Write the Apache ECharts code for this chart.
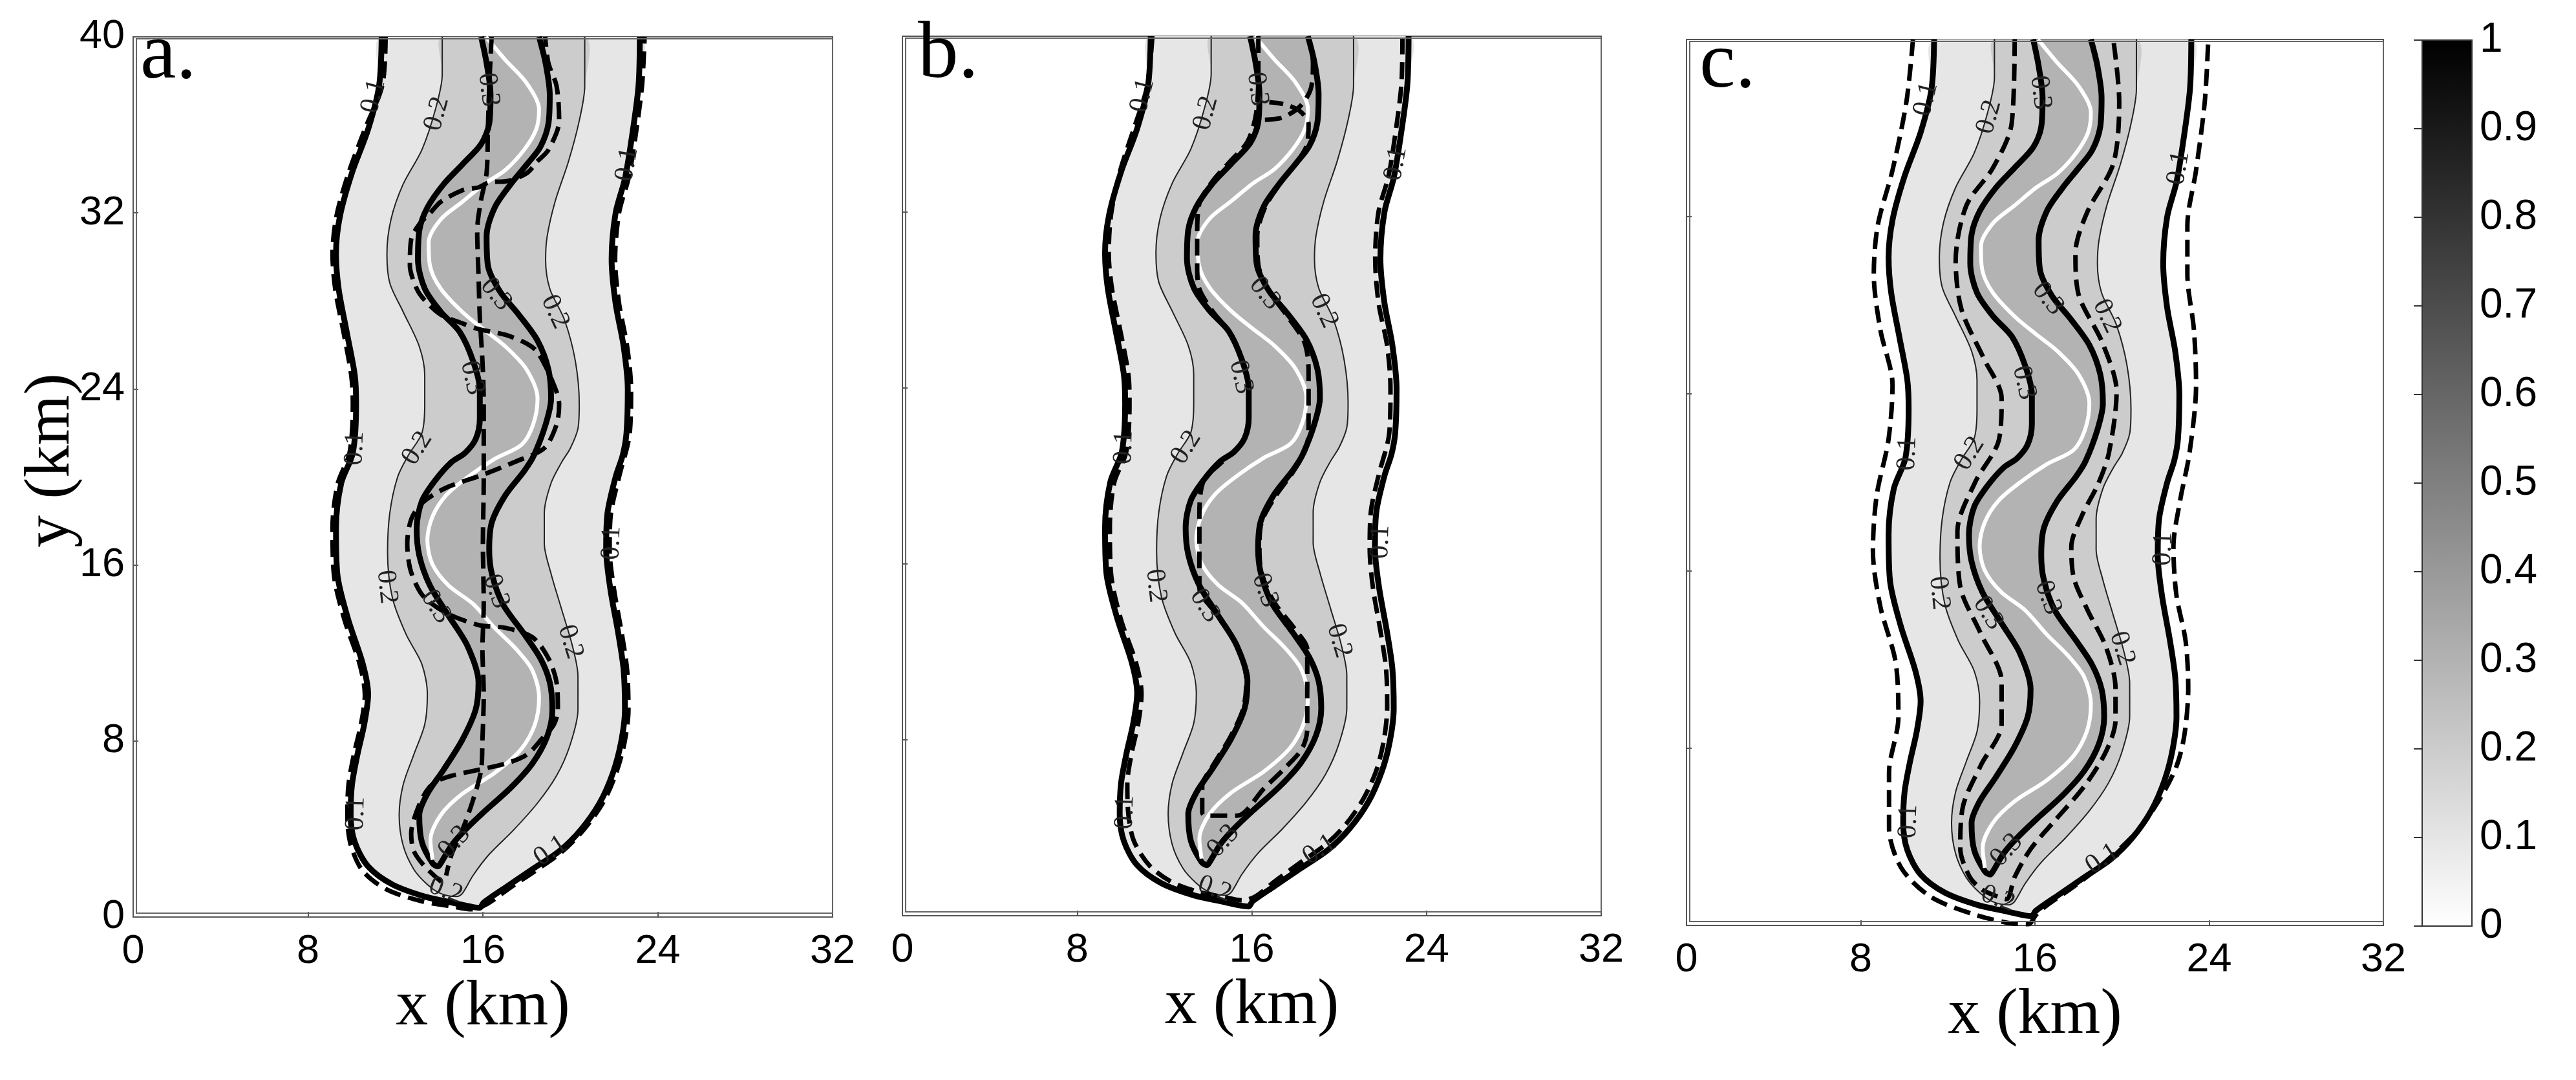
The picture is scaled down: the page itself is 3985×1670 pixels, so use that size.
<!DOCTYPE html>
<html>
<head>
<meta charset="utf-8">
<script src="https://cdn.jsdelivr.net/npm/echarts@6/dist/echarts.min.js"></script>
<style>
html, body { margin: 0; padding: 0; background: #fff; }
#chart { width: 3985px; height: 1670px; }
</style>
</head>
<body>
<div id="chart"></div>
<script>
// axes
const xTicks = [0, 8, 16, 24, 32]
const yTicks = [0, 8, 16, 24, 32, 40]
const cbarTicks = [0, 0.1, 0.2, 0.3, 0.4, 0.5, 0.6, 0.7, 0.8, 0.9, 1]
const panelNames = ['a.', 'b.', 'c.']

// shaded field (same in all three panels), contour lines
// each list: left flank top -> bottom, round the tip, right flank bottom -> top
const obs01 = [
  [11.37, 40], [11.25, 37.77], [10.75, 35.8], [10.01, 33.82], [9.46, 31.85], [9.28, 30.14], [9.4, 28.56],
  [9.77, 26.59], [10.14, 24.62], [10.2, 23.3], [10.05, 21.1], [9.52, 19.72], [9.28, 17.66], [9.34, 15.6],
  [9.83, 13.55], [10.51, 11.49], [10.75, 10.12], [10.57, 8.75], [10.26, 7.38], [10.01, 6.0], [9.95, 4.63],
  [10.14, 3.4], [10.75, 2.3], [11.86, 1.48], [13.34, 0.93], [14.57, 0.66], [15.55, 0.45], [15.85, 0.42],
  [16.04, 0.66], [17.03, 1.34], [18.26, 2.17], [19.49, 2.99], [20.47, 3.95], [21.34, 5.18], [21.95, 6.55],
  [22.32, 7.93], [22.5, 9.43], [22.44, 11.22], [22.2, 12.86], [21.83, 14.92], [21.64, 16.7], [21.7, 18.35],
  [22.07, 19.99], [22.4, 21.0], [22.57, 21.99], [22.63, 23.96], [22.44, 25.93], [22.07, 27.9], [21.89, 29.88],
  [22.07, 31.98], [22.5, 33.56], [22.81, 35.4], [23.12, 37.77], [23.18, 40]
]
const obs02 = [
  [14.14, 40], [14.14, 38.29], [13.83, 36.71], [13.21, 34.87], [12.35, 33.3], [11.8, 31.72], [11.61, 30.14],
  [11.74, 28.82], [12.35, 27.51], [13.09, 25.93], [13.34, 24.62], [13.34, 23.3], [13.21, 21.99], [12.6, 21.0],
  [12.1, 20.0], [11.74, 18.35], [11.64, 16.57], [11.86, 14.51], [12.48, 12.86], [13.21, 11.49], [13.46, 10.12],
  [13.34, 8.75], [12.84, 7.38], [12.35, 6.0], [12.17, 4.63], [12.35, 3.26], [12.84, 2.17], [13.46, 1.48],
  [14.07, 1.07], [14.81, 0.93], [15.06, 1.07], [15.55, 1.89], [16.29, 2.85], [17.4, 3.95], [18.5, 5.18],
  [19.37, 6.42], [19.98, 7.79], [20.35, 9.43], [20.35, 10.94], [20.1, 12.31], [19.61, 13.96], [19.12, 15.6],
  [18.81, 16.98], [18.81, 18.35], [19.12, 19.72], [19.61, 20.68], [20.0, 21.3], [20.35, 22.2], [20.41, 23.3],
  [20.23, 25.27], [19.74, 27.12], [19.06, 28.56], [18.87, 29.88], [18.94, 30.93], [19.3, 32.5], [19.92, 34.35],
  [20.41, 36.19], [20.66, 37.77], [20.66, 40]
]
const obs03 = [
  [15.92, 40], [16.17, 38.8], [16.35, 37.37], [16.29, 36.06], [15.92, 35.13], [15.06, 34.2], [14.2, 33.3],
  [13.46, 32.24], [13.09, 31.19], [13.03, 29.88], [13.34, 28.56], [14.07, 27.51], [14.94, 26.59], [15.55, 25.27],
  [15.86, 23.96], [15.86, 22.64], [15.67, 21.72], [15.18, 21.09], [14.57, 20.68], [13.83, 19.86], [13.21, 18.9],
  [12.97, 17.66], [13.09, 16.43], [13.58, 15.06], [14.44, 13.68], [15.3, 12.31], [15.8, 10.67], [15.67, 9.43],
  [15.06, 8.06], [14.2, 6.69], [13.46, 5.6], [13.09, 4.63], [13.21, 3.4], [13.7, 2.44], [13.95, 2.3],
  [14.07, 2.44], [14.57, 3.26], [15.18, 3.95], [16.04, 4.77], [17.27, 5.87], [18.26, 6.97], [18.94, 8.2],
  [19.18, 9.43], [19.06, 10.67], [18.63, 11.76], [17.89, 12.86], [16.91, 14.23], [16.41, 15.6], [16.29, 16.7],
  [16.41, 17.94], [17.03, 19.17], [17.89, 20.27], [18.32, 20.95], [18.87, 22.38], [19.12, 23.56], [19.0, 24.88],
  [18.5, 26.2], [17.64, 27.38], [16.78, 28.43], [16.23, 29.61], [16.17, 30.93], [16.54, 32.24], [17.27, 33.3],
  [18.01, 34.2], [18.63, 35.0], [19.0, 36.06], [19.06, 37.37], [18.87, 38.8], [18.57, 40]
]
const plumeAxis = [
  [16.14, 40], [17.03, 38.95], [18.0, 37.9], [18.57, 36.7], [18.44, 35.8], [17.89, 34.87], [17.03, 33.95],
  [16.04, 33.3], [15.06, 32.5], [14.07, 31.7], [13.52, 30.66], [13.58, 29.6], [14.07, 28.56], [15.06, 27.5],
  [16.04, 26.7], [17.03, 25.93], [18.0, 24.88], [18.5, 23.56], [18.3, 22.38], [17.77, 21.46], [16.54, 20.82],
  [15.3, 19.99], [14.32, 19.17], [13.7, 18.21], [13.46, 17.11], [13.7, 16.02], [14.44, 15.06], [15.55, 14.23],
  [16.54, 13.14], [17.52, 12.18], [18.26, 11.22], [18.57, 9.98], [18.38, 8.75], [17.77, 7.65], [16.54, 6.55],
  [15.06, 5.6], [14.07, 4.63], [13.6, 3.5], [13.7, 2.6]
]
// inline contour labels [x, y, text, angle in degrees]
const contourLabels = [
  [11.0, 37.3, '0.1', 76], [13.9, 36.5, '0.2', 75], [16.25, 37.6, '0.3', -83], [22.6, 34.2, '0.1', 80],
  [16.6, 28.3, '0.3', -51], [19.3, 27.5, '0.2', -65], [15.5, 24.5, '0.3', -77], [13.0, 21.3, '0.2', 58],
  [10.15, 21.3, '0.1', 88], [21.9, 17.0, '0.1', 88], [11.6, 15.0, '0.2', -84], [13.85, 14.1, '0.3', -58],
  [16.6, 14.8, '0.3', -70], [20.0, 12.5, '0.2', -73], [10.2, 4.7, '0.1', 88], [14.7, 3.4, '0.3', 48],
  [19.1, 3.0, '0.1', 34], [14.3, 1.2, '0.2', -20]
]

// dashed contours, panel a
const aDash1 = [
  [11.55, 40], [11.4, 37.8], [10.6, 35.8], [9.85, 33.8], [9.3, 31.85], [9.12, 30.1], [9.25, 28.5], [9.62, 26.6],
  [9.98, 24.6], [10.05, 23.3], [9.9, 21.1], [9.36, 19.7], [9.12, 17.7], [9.18, 15.6], [9.67, 13.5], [10.36, 11.5],
  [10.6, 10.1], [10.42, 8.75], [10.1, 7.4], [9.85, 6.0], [9.8, 4.6], [9.95, 3.3], [10.5, 2.1], [11.6, 1.25],
  [13.2, 0.72], [14.5, 0.5], [15.5, 0.35], [16.2, 0.6], [17.2, 1.3], [18.4, 2.1], [19.6, 2.95], [20.6, 3.95],
  [21.5, 5.2], [22.1, 6.55], [22.48, 7.93], [22.66, 9.43], [22.6, 11.22], [22.36, 12.86], [22.0, 14.9],
  [21.8, 16.7], [21.86, 18.35], [22.23, 20.0], [22.72, 22.0], [22.78, 23.96], [22.6, 25.93], [22.23, 27.9],
  [22.05, 29.9], [22.23, 32.0], [22.66, 33.56], [22.97, 35.4], [23.28, 37.77], [23.4, 40]
]
const aDash3 = [
  [14.1, 1.6], [13.34, 2.3], [12.84, 3.0], [12.72, 3.8], [12.97, 4.8], [13.4, 5.7], [13.83, 6.14], [14.57, 6.42],
  [15.8, 6.69], [17.03, 6.97], [18.01, 7.38], [18.7, 8.1], [19.25, 8.75], [19.43, 9.43], [19.37, 10.67],
  [19.0, 11.76], [18.26, 12.72], [17.03, 13.14], [15.8, 13.27], [14.32, 13.82], [13.34, 14.51], [12.97, 15.06],
  [12.66, 15.88], [12.54, 16.98], [12.72, 18.07], [13.2, 18.8], [14.3, 19.5], [16.0, 20.1], [17.5, 20.7],
  [18.8, 21.3], [19.37, 22.38], [19.49, 23.3], [19.18, 24.35], [18.5, 25.67], [18.01, 26.06], [17.03, 26.46],
  [15.8, 26.72], [15.06, 26.98], [14.07, 27.38], [13.34, 28.03], [12.97, 28.56], [12.66, 29.61], [12.72, 30.8],
  [13.1, 31.5], [13.58, 31.98], [14.07, 32.5], [15.06, 33.03], [15.8, 33.16], [16.3, 33.4], [17.03, 33.43],
  [18.0, 33.8], [18.5, 34.35], [19.0, 34.87], [19.49, 36.19], [19.37, 37.77], [19.0, 38.8], [18.85, 40]
]
const aDash3Mid = [
  [16.4, 40], [16.29, 37.77], [16.23, 35.8], [16.17, 33.82], [15.9, 32.5], [15.74, 31.19], [15.8, 29.2],
  [15.86, 27.25], [15.98, 25.27], [16.04, 23.3], [16.04, 21.09], [16.04, 19.86], [16.0, 17.0], [16.04, 14.23],
  [15.98, 12.18], [16.04, 10.12], [15.98, 8.06], [15.92, 6.69], [15.55, 5.32], [15.06, 3.95], [14.57, 2.85],
  [14.32, 1.89]
]

// dashed contours, panel b
const bDash1 = [
  [11.45, 40], [11.2, 37.7], [10.6, 35.8], [9.95, 33.8], [9.55, 31.85], [9.45, 30.1], [9.6, 28.5], [9.98, 26.6],
  [10.35, 24.6], [10.4, 23.3], [10.25, 21.1], [9.7, 19.7], [9.5, 17.7], [9.55, 15.6], [10.0, 13.5], [10.7, 11.5],
  [10.95, 10.1], [10.8, 8.75], [10.5, 7.4], [10.3, 6.0], [10.35, 4.6], [10.6, 3.4], [11.3, 2.3], [12.3, 1.55],
  [13.5, 1.1], [14.7, 0.85], [15.6, 0.7], [16.2, 0.9], [17.1, 1.6], [18.2, 2.4], [19.4, 3.25], [20.3, 4.15],
  [21.1, 5.3], [21.7, 6.6], [22.05, 8.0], [22.2, 9.5], [22.15, 11.2], [21.9, 12.9], [21.55, 14.9], [21.4, 16.7],
  [21.45, 18.35], [21.8, 20.0], [22.3, 22.0], [22.35, 24.0], [22.2, 25.9], [21.8, 27.9], [21.65, 29.9],
  [21.8, 32.0], [22.25, 33.6], [22.55, 35.4], [22.85, 37.8], [22.9, 40]
]
const bDash3 = [
  [16.3, 40], [16.3, 38.5], [16.2, 36.5], [15.8, 35.2], [15.0, 34.3], [14.2, 33.4], [13.6, 32.4], [13.5, 31.0],
  [13.5, 29.5], [13.6, 28.5], [14.2, 27.5], [15.0, 26.5], [15.6, 25.2], [15.85, 24.0], [15.85, 22.6],
  [15.6, 21.6], [14.6, 20.6], [13.8, 19.8], [13.6, 18.3], [13.6, 16.5], [13.6, 14.9], [14.4, 13.7], [15.3, 12.3],
  [15.75, 10.7], [15.6, 9.4], [15.0, 8.1], [14.2, 6.8], [13.73, 5.9], [13.73, 4.7], [13.85, 4.55], [14.6, 4.55],
  [15.33, 4.55], [16.57, 5.8], [17.55, 6.75], [18.3, 7.6], [18.54, 8.5], [18.54, 10.0], [18.54, 12.1],
  [18.0, 13.0], [17.0, 14.3], [16.45, 15.6], [16.35, 16.7], [16.45, 17.9], [17.1, 19.1], [17.9, 20.2],
  [18.5, 21.3], [18.6, 22.4], [18.6, 23.6], [18.6, 24.8], [18.4, 26.1], [17.6, 27.3], [16.8, 28.4], [16.3, 29.6],
  [16.25, 30.9], [16.6, 32.2], [17.3, 33.3], [18.0, 34.2], [18.5, 35.0], [18.6, 36.0], [18.2, 36.6],
  [17.5, 36.9], [16.8, 37.0]
]
const bDash3Top = [
  [16.6, 36.2], [17.4, 36.3], [18.2, 36.8], [18.7, 37.6], [18.8, 38.8], [18.6, 40]
]

// dashed contours, panel c
const cDash1 = [
  [10.4, 40], [10.1, 37.2], [9.46, 34.1], [8.78, 31.6], [8.6, 29.4], [8.9, 26.9], [9.46, 24.4], [9.27, 21.9],
  [8.73, 19.4], [8.56, 16.9], [8.9, 14.4], [9.6, 11.9], [9.73, 9.4], [9.3, 6.9], [9.3, 4.4], [9.86, 2.6],
  [11.2, 1.3], [13.1, 0.53], [14.74, 0.12], [15.7, 0.06], [16.06, 0.49], [16.55, 0.91], [17.79, 1.76],
  [19.27, 2.9], [20.76, 4.32], [21.75, 5.74], [22.49, 7.16], [22.86, 8.58], [23.04, 10.7], [22.92, 12.83],
  [22.49, 14.96], [22.36, 17.09], [22.67, 19.2], [23.1, 21.35], [23.4, 24.4], [23.3, 26.9], [23.0, 29.4],
  [23.0, 31.6], [23.4, 34.1], [23.8, 37.2], [23.96, 40]
]
const cDash3 = [
  [15.07, 40], [14.93, 36.2], [14.07, 34.2], [12.85, 32.5], [12.36, 30.0], [12.63, 27.8], [13.65, 25.6],
  [14.47, 23.8], [14.34, 21.9], [13.25, 20.0], [12.44, 17.8], [12.57, 15.3], [13.5, 13.2], [14.47, 11.0],
  [14.47, 9.1], [13.5, 7.2], [12.7, 5.4], [12.57, 3.5], [13.0, 2.2], [13.58, 1.62], [14.3, 1.3], [14.7, 1.19],
  [15.07, 2.19], [15.81, 3.46], [16.92, 4.74], [18.28, 6.3], [19.27, 7.87], [19.7, 9.28], [19.7, 10.7],
  [19.27, 12.55], [18.41, 14.25], [17.79, 15.67], [17.67, 17.09], [18.16, 18.51], [18.9, 19.93], [19.4, 21.35],
  [19.75, 24.1], [19.1, 26.3], [18.0, 28.5], [17.86, 30.35], [18.4, 32.2], [19.6, 34.4], [19.87, 37.2], [19.6, 40]
]

const panelDashes = [
  [aDash1, aDash3, aDash3Mid],
  [bDash1, bDash3, bDash3Top],
  [cDash1, cDash3]
]

const chart = echarts.init(document.getElementById('chart'))

const grids = [
  { left: 206, top: 57, width: 1082, height: 1361 },
  { left: 1396, top: 56, width: 1081, height: 1360 },
  { left: 2609, top: 61, width: 1078, height: 1370 },
  { left: 3747, top: 62, width: 77, height: 1370 }
]
const letterPos = [[217, 150], [1420, 149], [2629, 164]]

const serif = '"Liberation Serif", "Times New Roman", serif'
const sans = '"Liberation Sans", Arial, sans-serif'

function fillSeries (idx, pts, color, z) {
  return {
    type: 'custom',
    xAxisIndex: idx,
    yAxisIndex: idx,
    silent: true,
    clip: true,
    z: z,
    data: [[0, 0]],
    renderItem: function (params, api) {
      return {
        type: 'polygon',
        shape: { points: pts.map(p => api.coord(p)), smooth: 0.3 },
        style: { fill: color }
      }
    }
  }
}

function lineSeries (idx, pts, lineStyle, z) {
  return {
    type: 'line',
    xAxisIndex: idx,
    yAxisIndex: idx,
    data: pts,
    symbol: 'none',
    smooth: 0.3,
    silent: true,
    z: z,
    lineStyle: lineStyle
  }
}

function labelSeries (idx) {
  return {
    type: 'custom',
    xAxisIndex: idx,
    yAxisIndex: idx,
    silent: true,
    z: 9,
    data: contourLabels.map(l => [l[0], l[1]]),
    renderItem: function (params, api) {
      const l = contourLabels[params.dataIndex]
      const p = api.coord([l[0], l[1]])
      return {
        type: 'text',
        x: p[0],
        y: p[1],
        rotation: l[3] * Math.PI / 180,
        style: {
          text: l[2],
          font: '42px ' + serif,
          fill: '#222',
          align: 'center',
          verticalAlign: 'middle'
        }
      }
    }
  }
}

const xAxes = []
const yAxes = []
const series = []
const graphic = []

for (let i = 0; i < 3; i++) {
  xAxes.push({
    gridIndex: i,
    type: 'value',
    min: xTicks[0],
    max: xTicks[xTicks.length - 1],
    interval: xTicks[1] - xTicks[0],
    axisLine: { show: false },
    axisTick: { inside: true, length: 8, lineStyle: { color: '#555', width: 2 } },
    splitLine: { show: false },
    axisLabel: { fontFamily: sans, fontSize: 63, color: '#000', margin: 22 },
    name: 'x (km)',
    nameLocation: 'middle',
    nameGap: 56,
    nameTextStyle: { fontFamily: serif, fontSize: 100, color: '#000' }
  })
  yAxes.push({
    gridIndex: i,
    type: 'value',
    min: yTicks[0],
    max: yTicks[yTicks.length - 1],
    interval: yTicks[1] - yTicks[0],
    axisLine: { show: false },
    axisTick: { inside: true, length: 8, lineStyle: { color: '#555', width: 2 } },
    splitLine: { show: false },
    axisLabel: { show: i === 0, fontFamily: sans, fontSize: 63, color: '#000', margin: 13 }
  })

  series.push(fillSeries(i, obs01, '#e6e6e6', 1))
  series.push(fillSeries(i, obs02, '#cccccc', 1))
  series.push(fillSeries(i, obs03, '#b3b3b3', 1))
  series.push(lineSeries(i, obs02, { color: '#222', width: 2 }, 3))
  series.push(lineSeries(i, obs01, { color: '#000', width: 9 }, 4))
  series.push(lineSeries(i, obs03, { color: '#000', width: 9 }, 4))
  series.push(lineSeries(i, plumeAxis, { color: '#fff', width: 6 }, 5))
  panelDashes[i].forEach(d => {
    series.push(lineSeries(i, d, { color: '#000', width: 7, type: [26, 12] }, 6))
  })
  series.push(labelSeries(i))

  const g = grids[i]
  // inner frame line of the matlab axes
  graphic.push({
    type: 'rect',
    silent: true,
    z: 10,
    shape: { x: g.left + 5, y: g.top + 3, width: g.width - 5, height: g.height - 9 },
    style: { fill: 'none', stroke: '#666', lineWidth: 2 }
  })
  graphic.push({
    type: 'text',
    silent: true,
    z: 10,
    x: letterPos[i][0],
    y: letterPos[i][1],
    style: {
      text: panelNames[i],
      font: '125px ' + serif,
      fill: '#000',
      align: 'left',
      verticalAlign: 'bottom'
    }
  })
}

// y axis title, placed as in the figure (a little above the axis middle)
graphic.push({
  type: 'text',
  silent: true,
  x: 80,
  y: 712,
  rotation: Math.PI / 2,
  style: {
    text: 'y (km)',
    font: '100px ' + serif,
    fill: '#000',
    align: 'center',
    verticalAlign: 'middle'
  }
})

// colour bar
xAxes.push({ gridIndex: 3, type: 'value', min: 0, max: 1, show: false })
yAxes.push({
  gridIndex: 3,
  type: 'value',
  position: 'right',
  min: cbarTicks[0],
  max: cbarTicks[cbarTicks.length - 1],
  interval: cbarTicks[1] - cbarTicks[0],
  axisLine: { show: false },
  axisTick: { inside: true, length: 13, lineStyle: { color: '#333', width: 2 } },
  splitLine: { show: false },
  axisLabel: { fontFamily: sans, fontSize: 64, color: '#000', margin: 12 }
})
yAxes.push({
  gridIndex: 3,
  type: 'value',
  position: 'left',
  min: cbarTicks[0],
  max: cbarTicks[cbarTicks.length - 1],
  interval: cbarTicks[1] - cbarTicks[0],
  axisLine: { show: false },
  axisTick: { inside: true, length: 13, lineStyle: { color: '#333', width: 2 } },
  splitLine: { show: false },
  axisLabel: { show: false }
})
series.push({
  type: 'custom',
  xAxisIndex: 3,
  yAxisIndex: 3,
  silent: true,
  z: 1,
  data: [[0, 0]],
  renderItem: function (params, api) {
    const p0 = api.coord([0, cbarTicks[cbarTicks.length - 1]])
    const p1 = api.coord([1, cbarTicks[0]])
    return {
      type: 'rect',
      shape: { x: p0[0], y: p0[1], width: p1[0] - p0[0], height: p1[1] - p0[1] },
      style: {
        fill: new echarts.graphic.LinearGradient(0, 0, 0, 1, [
          { offset: 0, color: '#000' },
          { offset: 1, color: '#fff' }
        ]),
        stroke: '#333',
        lineWidth: 2
      }
    }
  }
})

chart.setOption({
  animation: false,
  backgroundColor: '#fff',
  grid: grids.map((g, i) => Object.assign({
    show: i < 3,
    borderColor: '#555',
    borderWidth: 2,
    backgroundColor: 'transparent'
  }, g)),
  xAxis: xAxes,
  yAxis: yAxes,
  series: series,
  graphic: graphic
})
</script>
</body>
</html>
